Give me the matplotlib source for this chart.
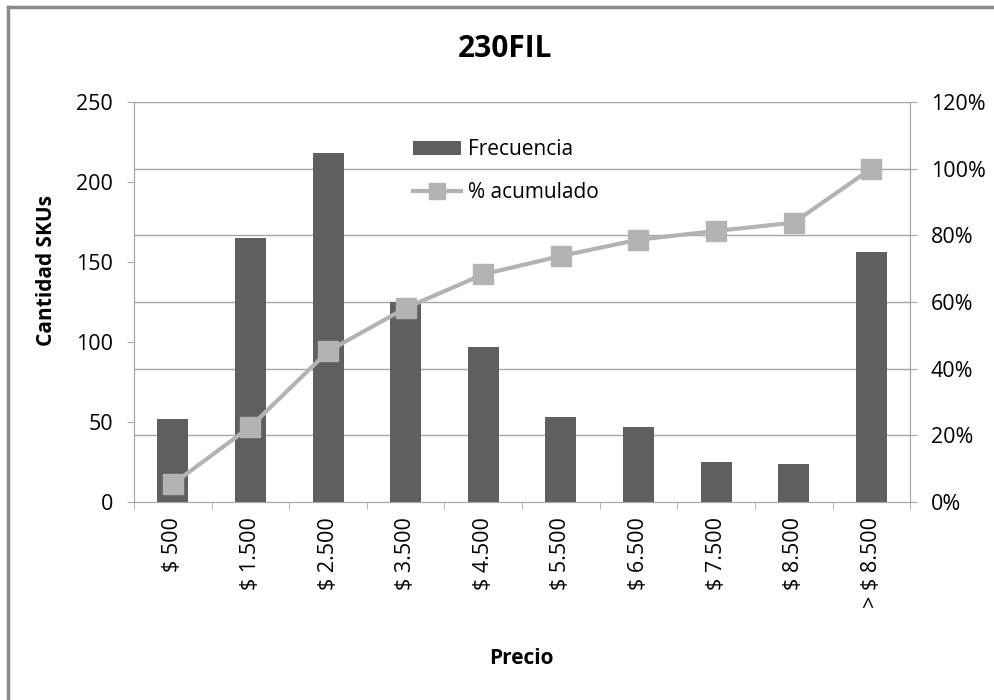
import matplotlib.pyplot as plt
from matplotlib.lines import Line2D
import numpy as np

plt.rcParams['font.family'] = ['Open Sans', 'DejaVu Sans']

precios = ['$ 500', '$ 1.500', '$ 2.500', '$ 3.500', '$ 4.500',
           '$ 5.500', '$ 6.500', '$ 7.500', '$ 8.500', '> $ 8.500']
frecuencia = [52, 165, 218, 125, 97, 53, 47, 25, 24, 156]
acumulado = [5.4, 22.6, 45.2, 58.2, 68.3, 73.8, 78.7, 81.3, 83.8, 100.0]

bar_color = '#5f5f5f'
line_color = '#b3b3b3'
grid_color = '#a6a6a6'

fig = plt.figure(figsize=(9.95, 7), dpi=100)
ax = fig.add_axes([0.1347, 0.2829, 0.78, 0.5714])
ax2 = ax.twinx()

x = np.arange(len(precios))
ax.bar(x, frecuencia, width=0.4, color=bar_color, zorder=2, label='Frecuencia')
ax.set_xlim(-0.5, len(precios) - 0.5)
ax.set_ylim(0, 250)
ax.set_yticks(range(0, 251, 50))

ax2.set_ylim(0, 120)
ax2.set_yticks(range(0, 121, 20))
ax2.set_yticklabels([f'{v}%' for v in range(0, 121, 20)])
ax2.plot(x, acumulado, color=line_color, lw=3, marker='s', ms=14,
         mec=line_color, mfc=line_color, label='% acumulado', zorder=3)

# gridlines follow the percentage axis, drawn behind the bars
for v in range(20, 121, 20):
    ax.axhline(v / 120 * 250, color=grid_color, lw=1, zorder=0)

ax.set_xticks(x)
ax.set_xticklabels(precios, rotation=90, fontsize=15.5)
ax.set_xticks(np.arange(-0.5, len(precios)), minor=True)
ax.tick_params(axis='x', which='major', length=0, pad=11)
ax.tick_params(axis='x', which='minor', length=5, color=grid_color)
ax.tick_params(axis='y', labelsize=15.5, length=5, color=grid_color, pad=10)
ax2.tick_params(axis='y', labelsize=15.5, length=5, color=grid_color, pad=10)

for a in (ax, ax2):
    a.spines['top'].set_visible(False)
    for s in ('left', 'right', 'bottom'):
        a.spines[s].set_color(grid_color)

fig.text(47 / 995, 1 - 271 / 700, 'Cantidad SKUs', rotation=90,
         ha='center', va='center', fontsize=15, fontweight='bold')
fig.text(521 / 995, 1 - 658 / 700, 'Precio', ha='center', va='center',
         fontsize=15, fontweight='bold')
fig.text(505 / 995, 1 - 49 / 700, '230FIL', ha='center', va='center',
         fontsize=21.5, fontweight='bold')

h1, l1 = ax.get_legend_handles_labels()
h2, l2 = ax2.get_legend_handles_labels()
ax2.legend(h1 + h2, l1 + l2, loc='upper left', bbox_to_anchor=(0.36, 0.907),
           frameon=False, fontsize=15, handlelength=2.3, handletextpad=0.3,
           labelspacing=1.05, borderpad=0, borderaxespad=0, markerscale=0.85)

# outer chart border (left and top edges visible)
fig.add_artist(Line2D([0.008, 0.008], [0, 0.99], color='#8a8a8a', lw=2.5))
fig.add_artist(Line2D([0.008, 1.0], [0.99, 0.99], color='#8a8a8a', lw=2.5))

fig.savefig('out.png', dpi=100)
